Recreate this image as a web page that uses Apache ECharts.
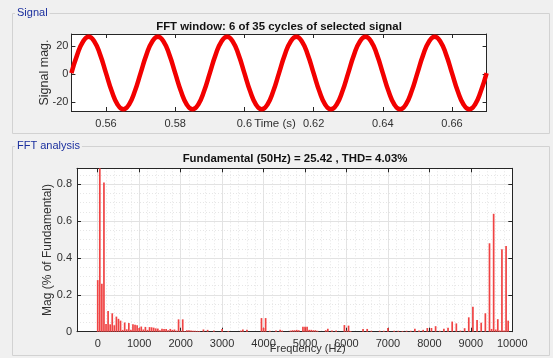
<!DOCTYPE html>
<html>
<head>
<meta charset="utf-8">
<script src="https://cdn.jsdelivr.net/npm/echarts@6/dist/echarts.min.js"></script>
<style>
  html, body { margin: 0; padding: 0; background: #f0f0f0; }
  #chart { width: 553px; height: 358px; }
</style>
</head>
<body>
<div id="chart"></div>
<script>
// signal window, 0.55 s .. 0.67 s (12 samples per cycle)
const signalTime = [
  0.55, 0.55167, 0.55333, 0.555, 0.55667, 0.55833, 0.56, 0.56167, 0.56333, 0.565, 0.56667, 0.56833,
  0.57, 0.57167, 0.57333, 0.575, 0.57667, 0.57833, 0.58, 0.58167, 0.58333, 0.585, 0.58667, 0.58833,
  0.59, 0.59167, 0.59333, 0.595, 0.59667, 0.59833, 0.60, 0.60167, 0.60333, 0.605, 0.60667, 0.60833,
  0.61, 0.61167, 0.61333, 0.615, 0.61667, 0.61833, 0.62, 0.62167, 0.62333, 0.625, 0.62667, 0.62833,
  0.63, 0.63167, 0.63333, 0.635, 0.63667, 0.63833, 0.64, 0.64167, 0.64333, 0.645, 0.64667, 0.64833,
  0.65, 0.65167, 0.65333, 0.655, 0.65667, 0.65833, 0.66, 0.66167, 0.66333, 0.665, 0.66667, 0.66833,
  0.67
];
const signalMag = [
  0.6, 13.6, 23.0, 26.5, 23.0, 13.6, 0.6, -12.4, -21.8, -25.3, -21.8, -12.4,
  0.6, 13.6, 23.0, 26.5, 23.0, 13.6, 0.6, -12.4, -21.8, -25.3, -21.8, -12.4,
  0.6, 13.6, 23.0, 26.5, 23.0, 13.6, 0.6, -12.4, -21.8, -25.3, -21.8, -12.4,
  0.6, 13.6, 23.0, 26.5, 23.0, 13.6, 0.6, -12.4, -21.8, -25.3, -21.8, -12.4,
  0.6, 13.6, 23.0, 26.5, 23.0, 13.6, 0.6, -12.4, -21.8, -25.3, -21.8, -12.4,
  0.6, 13.6, 23.0, 26.5, 23.0, 13.6, 0.6, -12.4, -21.8, -25.3, -21.8, -12.4,
  0.6
];

// FFT harmonics (Hz) and magnitude (% of fundamental); 50 Hz = fundamental, clipped
const harmFreq = [
  0, 50, 100, 150, 200, 250, 300, 350, 400, 450, 500, 550, 600, 650, 700, 750, 800, 850, 900, 950,
  1000, 1050, 1100, 1150, 1200, 1250, 1300, 1350, 1400, 1450, 1500, 1550, 1600, 1650, 1700, 1750,
  1800, 1850, 1900, 1950, 2000, 2050, 2100, 2150, 2200, 2250, 2300, 2350, 2400, 2450, 2550, 2650,
  2800, 3000, 3150, 3450, 3500, 3600, 3950, 4000, 4050, 4150, 4300, 4400, 4450, 4650, 4700, 4750,
  4800, 4850, 4950, 5000, 5050, 5100, 5150, 5200, 5250, 5300, 5500, 5550, 5650, 5750, 5950, 6000,
  6050, 6100, 6400, 6500, 6600, 6800, 6900, 7000, 7150, 7250, 7350, 7450, 7550, 7650, 7750, 7850,
  7950, 8050, 8150, 8250, 8350, 8450, 8550, 8650, 8750, 8850, 8950, 9050, 9150, 9250, 9350, 9450,
  9500, 9550, 9600, 9650, 9700, 9750, 9800, 9850, 9900
];
const harmMag = [
  0.28, 100, 0.26, 0.81, 0.042, 0.113, 0.04, 0.10, 0.035, 0.082, 0.07, 0.06, 0.01, 0.05, 0.013, 0.047, 0.01, 0.04, 0.038, 0.035,
  0.02, 0.028, 0.012, 0.026, 0.01, 0.025, 0.024, 0.022, 0.018, 0.017, 0.008, 0.016, 0.015, 0.015, 0.008, 0.015,
  0.01, 0.012, 0.006, 0.067, 0.005, 0.067, 0.003, 0.008, 0.008, 0.007, 0.005, 0.005, 0.004, 0.004, 0.012, 0.01,
  0.006, 0.015, 0.004, 0.006, 0.012, 0.01, 0.074, 0.02, 0.074, 0.005, 0.006, 0.01, 0.006, 0.006, 0.008, 0.008,
  0.01, 0.008, 0.027, 0.027, 0.027, 0.01, 0.01, 0.008, 0.008, 0.005, 0.008, 0.016, 0.006, 0.006, 0.036, 0.006,
  0.033, 0.004, 0.015, 0.015, 0.005, 0.005, 0.005, 0.02, 0.005, 0.005, 0.004, 0.005, 0.005, 0.016, 0.006, 0.01,
  0.02, 0.02, 0.03, 0.005, 0.016, 0.022, 0.055, 0.045, 0.006, 0.019, 0.078, 0.136, 0.063, 0.049, 0.10, 0.48,
  0.015, 0.64, 0.012, 0.068, 0.006, 0.447, 0.006, 0.465, 0.06
];

const timeTicks = [0.56, 0.58, 0.6, 0.62, 0.64, 0.66];
const signalTicks = [-20, 0, 20];
const freqTicks = [0, 1000, 2000, 3000, 4000, 5000, 6000, 7000, 8000, 9000, 10000];
const freqMinorTicks = [];
for (let f = 0; f <= 10000; f += 200) freqMinorTicks.push(f);

const chart = echarts.init(document.getElementById('chart'));

const FONT = 'Liberation Sans';
const AX = '#262626';
const LBL = '#303030';

// box axis (ticks inside, no labels) for the MATLAB-style frame
function boxAxis(extra) {
  return Object.assign({
    type: 'value',
    axisLine: { show: true, onZero: false, lineStyle: { color: AX, width: 1 } },
    axisTick: { show: true, inside: true, length: 4, lineStyle: { color: AX } },
    axisLabel: { show: false },
    splitLine: { show: false },
    nameMoveOverlap: false
  }, extra);
}

const option = {
  backgroundColor: '#f0f0f0',
  animation: false,
  textStyle: { fontFamily: FONT },
  graphic: [
    { type: 'rect', shape: { x: 12.5, y: 13.5, width: 537, height: 120 },
      style: { fill: 'none', stroke: '#d2d2d2', lineWidth: 1 } },
    { type: 'rect', shape: { x: 12.5, y: 146.5, width: 537, height: 209 },
      style: { fill: 'none', stroke: '#d2d2d2', lineWidth: 1 } },
    { type: 'text', left: 15, top: 7,
      style: { text: 'Signal', fill: '#1b2f9e', font: '11px "Liberation Sans"',
               backgroundColor: '#f0f0f0', padding: [0, 2, 0, 2] } },
    { type: 'text', left: 15, top: 140,
      style: { text: 'FFT analysis', fill: '#1b2f9e', font: '11px "Liberation Sans"',
               backgroundColor: '#f0f0f0', padding: [0, 2, 0, 2] } }
  ],
  title: [
    { text: 'FFT window: 6 of 35 cycles of selected signal', left: 279, top: 21, textAlign: 'center', padding: 0,
      textStyle: { fontSize: 11.4, fontWeight: 'bold', color: '#111', fontFamily: FONT } },
    { text: 'Fundamental (50Hz) = 25.42 , THD= 4.03%', left: 295, top: 153.5, textAlign: 'center', padding: 0,
      textStyle: { fontSize: 11.4, fontWeight: 'bold', color: '#111', fontFamily: FONT } }
  ],
  grid: [
    { left: 71.4, right: 66.4, top: 34, height: 77, show: true, backgroundColor: '#fff', borderWidth: 0 },
    { left: 77, right: 40.7, top: 168.3, height: 163.4, show: true, backgroundColor: '#fff', borderWidth: 0 },
    { left: 77, right: 40.7, top: 168.3, height: 163.4, show: false }
  ],
  xAxis: [
    boxAxis({
      gridIndex: 0, min: 0.55, max: 0.67, position: 'bottom',
      axisTick: { show: true, inside: true, length: 4, customValues: timeTicks, lineStyle: { color: AX } },
      axisLabel: { show: true, customValues: timeTicks, margin: 7, fontSize: 11, color: LBL,
                   formatter: v => String(+v.toFixed(2)) },
      name: 'Time (s)', nameLocation: 'middle', nameGap: 7,
      nameTextStyle: { fontSize: 11.5, color: LBL, verticalAlign: 'top', padding: [0, 8, 0, 0] }
    }),
    boxAxis({ gridIndex: 0, min: 0.55, max: 0.67, position: 'top',
      axisTick: { show: true, inside: true, length: 4, customValues: timeTicks, lineStyle: { color: AX } } }),
    boxAxis({
      gridIndex: 1, min: -500, max: 10000, position: 'bottom',
      axisTick: { show: true, inside: true, length: 4, customValues: freqTicks, lineStyle: { color: AX } },
      axisLabel: { show: true, customValues: freqTicks, margin: 7, fontSize: 11, color: LBL,
                   formatter: v => String(v) },
      splitLine: { show: true, lineStyle: { color: '#e2e2e2', width: 1 } },
      name: 'Frequency (Hz)', nameLocation: 'middle', nameGap: 12,
      nameTextStyle: { fontSize: 11, color: LBL, verticalAlign: 'top', padding: [0, 0, 0, 26] }
    }),
    boxAxis({ gridIndex: 1, min: -500, max: 10000, position: 'top',
      axisTick: { show: true, inside: true, length: 4, customValues: freqTicks, lineStyle: { color: AX } } }),
    {
      type: 'value', gridIndex: 2, min: -500, max: 10000, position: 'bottom',
      axisLine: { show: false }, axisLabel: { show: false },
      axisTick: { show: false, customValues: freqMinorTicks },
      splitLine: { show: true, lineStyle: { color: '#e6e6e6', type: [1, 2], width: 1 } }
    }
  ],
  yAxis: [
    boxAxis({
      gridIndex: 0, min: -26.5, max: 28.5, position: 'left',
      axisTick: { show: true, inside: true, length: 4, customValues: signalTicks, lineStyle: { color: AX } },
      axisLabel: { show: true, customValues: signalTicks, margin: 3, fontSize: 11, color: LBL },
      name: 'Signal mag.', nameLocation: 'middle', nameGap: 20,
      nameTextStyle: { fontSize: 12.5, color: LBL }
    }),
    boxAxis({ gridIndex: 0, min: -26.5, max: 28.5, position: 'right',
      axisTick: { show: true, inside: true, length: 4, customValues: signalTicks, lineStyle: { color: AX } } }),
    boxAxis({
      gridIndex: 1, min: 0, max: 0.887, interval: 0.2, position: 'left',
      axisLabel: { show: true, margin: 5, fontSize: 11, color: LBL, showMaxLabel: false,
                   formatter: v => (v > 0.85 ? '' : String(+v.toFixed(1))) },
      splitLine: { show: true, lineStyle: { color: '#e2e2e2', width: 1 } },
      minorSplitLine: { show: true, lineStyle: { color: '#e6e6e6', type: [1, 2], width: 1 } },
      minorTick: { show: false, splitNumber: 4 },
      name: 'Mag (% of Fundamental)', nameLocation: 'middle', nameGap: 23,
      nameTextStyle: { fontSize: 12, color: LBL }
    }),
    boxAxis({ gridIndex: 1, min: 0, max: 0.887, interval: 0.2, position: 'right' }),
    { type: 'value', gridIndex: 2, min: 0, max: 0.887, show: false }
  ],
  series: [
    {
      type: 'line', xAxisIndex: 0, yAxisIndex: 0,
      data: signalTime.map((t, i) => [t, signalMag[i]]),
      smooth: true, symbol: 'none', showSymbol: false, clip: true,
      lineStyle: { color: '#f20000', width: 4.5, cap: 'butt', join: 'round' }
    },
    {
      type: 'bar', xAxisIndex: 2, yAxisIndex: 2,
      data: harmFreq.map((f, i) => [f, harmMag[i]]),
      barWidth: 1.7, clip: true,
      itemStyle: { color: '#f04444' }
    }
  ]
};

chart.setOption(option);
</script>
</body>
</html>
